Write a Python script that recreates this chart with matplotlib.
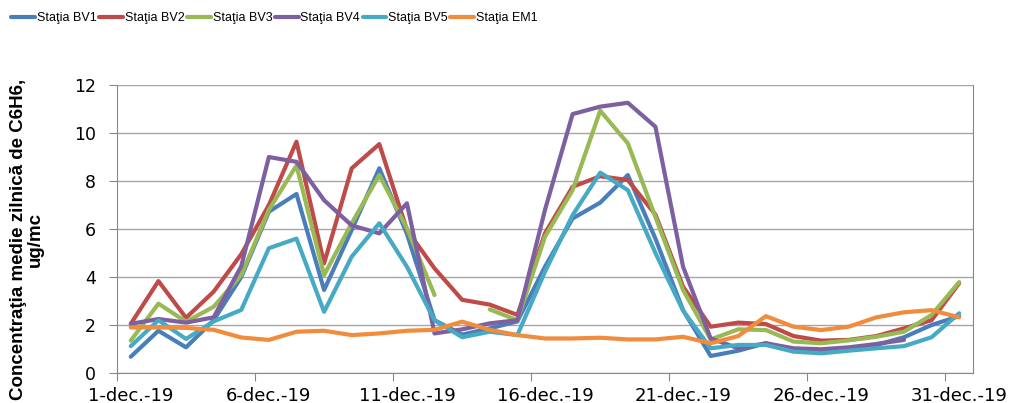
import numpy as np
import matplotlib
matplotlib.use("Agg")
import matplotlib.pyplot as plt

nan = np.nan

days = list(range(1, 32))
tick_days = [1, 6, 11, 16, 21, 26, 31]
tick_labels = ["1-dec.-19", "6-dec.-19", "11-dec.-19", "16-dec.-19",
               "21-dec.-19", "26-dec.-19", "31-dec.-19"]

bv1 = [0.68, 1.76, 1.07, 2.2, 4.0, 6.72, 7.46, 3.46, 5.96, 8.53, 5.8, 2.2, 1.6,
       1.86, 2.15, 4.43, 6.44, 7.1, 8.25, 5.6, 2.62, 0.71, 0.93, 1.24, 0.93, 0.89,
       1.0, 1.17, 1.49, 2.0, 2.37]
bv2 = [2.05, 3.83, 2.3, 3.39, 4.95, 7.0, 9.64, 4.57, 8.53, 9.54, 5.96, 4.36, 3.05,
       2.85, 2.42, 5.82, 7.76, 8.2, 8.04, 6.6, 3.6, 1.93, 2.1, 2.04, 1.54, 1.35,
       1.38, 1.54, 1.86, 2.2, 3.74]
bv3 = [1.35, 2.89, 2.14, 2.76, 4.08, 6.8, 8.65, 4.08, 6.24, 8.25, 6.03, 3.25, nan,
       2.65, 2.2, 5.68, 7.62, 10.93, 9.57, 6.5, 3.46, 1.4, 1.82, 1.79, 1.31, 1.24,
       1.36, 1.51, 1.72, 2.42, 3.79]
bv4 = [2.05, 2.25, 2.1, 2.32, 4.45, 9.0, 8.8, 7.2, 6.15, 5.82, 7.07, 1.65, 1.82,
       2.07, 2.2, 6.8, 10.79, 11.1, 11.26, 10.26, 4.43, 1.44, 1.03, 1.24, 1.03,
       0.99, 1.07, 1.21, 1.38, nan, nan]
bv5 = [1.12, 2.2, 1.42, 2.15, 2.63, 5.2, 5.6, 2.55, 4.85, 6.24, 4.43, 2.2, 1.49,
       1.72, 1.58, 4.22, 6.58, 8.35, 7.62, 5.0, 2.6, 1.03, 1.17, 1.17, 0.89, 0.82,
       0.93, 1.03, 1.12, 1.49, 2.49]
em1 = [1.9, 1.9, 1.88, 1.8, 1.48, 1.38, 1.72, 1.76, 1.58, 1.65, 1.76, 1.8, 2.14,
       1.8, 1.58, 1.44, 1.44, 1.47, 1.4, 1.4, 1.51, 1.24, 1.54, 2.37, 1.93, 1.79,
       1.93, 2.32, 2.53, 2.62, 2.32]

series = [("Staţia BV1", bv1, "#4A7EBB"),
          ("Staţia BV2", bv2, "#BE4B48"),
          ("Staţia BV3", bv3, "#98B954"),
          ("Staţia BV4", bv4, "#7D60A0"),
          ("Staţia BV5", bv5, "#46AAC5"),
          ("Staţia EM1", em1, "#F08C3C")]

fig = plt.figure(figsize=(10.13, 4.03), dpi=100)
ax = fig.add_axes([0.1155, 0.0744, 0.845, 0.7146])

for name, vals, col in series:
    ax.plot(days, vals, color=col, lw=3.0, label=name, solid_capstyle="round",
            solid_joinstyle="round")

ax.set_xlim(0.5, 31.5)
ax.set_ylim(0, 12)
ax.set_yticks(range(0, 13, 2))
ax.grid(axis="y", color="#a6a6a6", lw=1.0)
ax.set_axisbelow(True)

# tick marks at day boundaries, labels at day centres
ax.set_xticks([d - 0.5 for d in tick_days])
ax.set_xticklabels([])
ax.set_xticks(tick_days, minor=True)
ax.set_xticklabels(tick_labels, minor=True)
ax.tick_params(axis="x", which="major", length=6, color="#888888", direction="out")
ax.tick_params(axis="x", which="minor", length=0, pad=10, labelsize=13)
ax.tick_params(axis="y", length=6, color="#888888", pad=9, labelsize=12.5)

for sp in ax.spines.values():
    sp.set_color("#888888")
ax.spines["top"].set_visible(False)

fig.text(0.027, 0.405, "Concentraţia medie zilnică de C6H6,\nug/mc", rotation=90,
         ha="center", va="center", fontsize=13.5, fontweight="bold",
         family=["Liberation Sans", "DejaVu Sans"], linespacing=1.0)

fig.legend(loc="center left", bbox_to_anchor=(0.0, 0.955), ncol=6, frameon=False,
           prop={"family": ["Liberation Sans", "DejaVu Sans"], "size": 9},
           handlelength=1.9, handletextpad=0.15, columnspacing=0.2)

fig.savefig("out.png", dpi=100)
